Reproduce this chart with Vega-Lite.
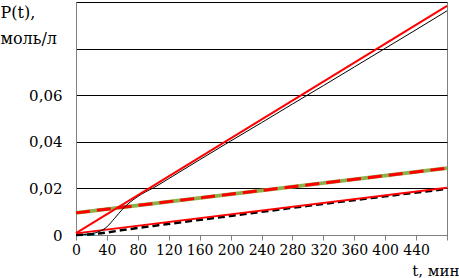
{
  "$schema": "https://vega.github.io/schema/vega-lite/v6.json",
  "width": 371,
  "height": 233,
  "autosize": "none",
  "padding": {"left": 76, "top": 2, "right": 12, "bottom": 43},
  "background": "white",
  "config": {
    "view": {"stroke": "#808080", "strokeWidth": 1},
    "font": "DejaVu Serif"
  },
  "datasets": {
    "blackSolid": [
      {"t": 0, "p": 0}, {"t": 10, "p": 0.0002}, {"t": 20, "p": 0.0006}, {"t": 30, "p": 0.0015},
      {"t": 40, "p": 0.0035}, {"t": 50, "p": 0.0072}, {"t": 60, "p": 0.011}, {"t": 70, "p": 0.0141},
      {"t": 80, "p": 0.0165}, {"t": 90, "p": 0.0185}, {"t": 100, "p": 0.0202}, {"t": 120, "p": 0.0242},
      {"t": 160, "p": 0.0323}, {"t": 200, "p": 0.0403}, {"t": 240, "p": 0.0482}, {"t": 280, "p": 0.0562},
      {"t": 320, "p": 0.0641}, {"t": 360, "p": 0.0721}, {"t": 400, "p": 0.0801}, {"t": 440, "p": 0.0881},
      {"t": 480, "p": 0.0962}
    ],
    "redUpper": [{"t": 0, "p": 0.0008}, {"t": 480, "p": 0.0983}],
    "greenRed": [{"t": 0, "p": 0.0095}, {"t": 480, "p": 0.0287}],
    "redLower": [{"t": 0, "p": 0.0007}, {"t": 480, "p": 0.0203}],
    "blackDashed": [
      {"t": 0, "p": 0}, {"t": 20, "p": 0.0003}, {"t": 40, "p": 0.0011}, {"t": 60, "p": 0.0021},
      {"t": 100, "p": 0.0039}, {"t": 200, "p": 0.0082}, {"t": 300, "p": 0.0125}, {"t": 400, "p": 0.0166},
      {"t": 480, "p": 0.0198}
    ],
    "cyan": [{"t": 0, "p": 0.0001}, {"t": 25, "p": 0.0002}]
  },
  "encoding": {
    "x": {
      "field": "t", "type": "quantitative",
      "scale": {"domain": [0, 480], "nice": false},
      "axis": {
        "values": [0, 40, 80, 120, 160, 200, 240, 280, 320, 360, 400, 440, 480],
        "labelExpr": "datum.value == 480 ? '' : datum.label",
        "format": "d",
        "grid": false,
        "domainColor": "#808080",
        "tickColor": "#808080",
        "tickSize": 5,
        "labelFont": "DejaVu Serif",
        "labelFontSize": 14,
        "labelColor": "black",
        "labelPadding": 3,
        "labelFlush": false,
        "labelOverlap": false,
        "title": "t, мин",
        "titleFont": "DejaVu Serif",
        "titleFontSize": 15,
        "titleFontWeight": "normal",
        "titleColor": "black",
        "titleAnchor": "end",
        "titleAlign": "right",
        "titleX": 383,
        "titleY": 40,
        "titleBaseline": "alphabetic"
      }
    },
    "y": {
      "field": "p", "type": "quantitative",
      "scale": {"domain": [0, 0.1], "nice": false},
      "axis": {
        "values": [0, 0.02, 0.04, 0.06, 0.08, 0.1],
        "labelExpr": "datum.value == 0 ? '0' : (datum.value > 0.07 ? '' : replace(format(datum.value, '.2f'), '.', ','))",
        "grid": true,
        "gridColor": "black",
        "gridWidth": 1,
        "gridOpacity": 1,
        "domainColor": "#808080",
        "ticks": false,
        "labelFont": "DejaVu Serif",
        "labelFontSize": 15,
        "labelColor": "black",
        "labelPadding": 14,
        "labelFlush": false,
        "title": ["P(t),", "моль/л"],
        "titleFont": "DejaVu Serif",
        "titleFontSize": 16,
        "titleFontWeight": "normal",
        "titleColor": "black",
        "titleAngle": 0,
        "titleAlign": "left",
        "titleBaseline": "alphabetic",
        "titleLineHeight": 26,
        "titleX": -76,
        "titleY": 15
      }
    }
  },
  "layer": [
    {"data": {"name": "cyan"}, "mark": {"type": "line", "color": "#2fb5c0", "strokeWidth": 2}},
    {"data": {"name": "greenRed"}, "mark": {"type": "line", "color": "#8DB04A", "strokeWidth": 4}},
    {"data": {"name": "greenRed"}, "mark": {"type": "line", "color": "#FF0000", "strokeWidth": 3, "strokeDash": [14, 7]}},
    {"data": {"name": "blackDashed"}, "mark": {"type": "line", "color": "black", "strokeWidth": 2.5, "strokeDash": [7, 4], "interpolate": "monotone"}},
    {"data": {"name": "redLower"}, "mark": {"type": "line", "color": "#FF0000", "strokeWidth": 2}},
    {"data": {"name": "blackSolid"}, "mark": {"type": "line", "color": "black", "strokeWidth": 1, "interpolate": "monotone"}},
    {"data": {"name": "redUpper"}, "mark": {"type": "line", "color": "#FF0000", "strokeWidth": 2}}
  ]
}
